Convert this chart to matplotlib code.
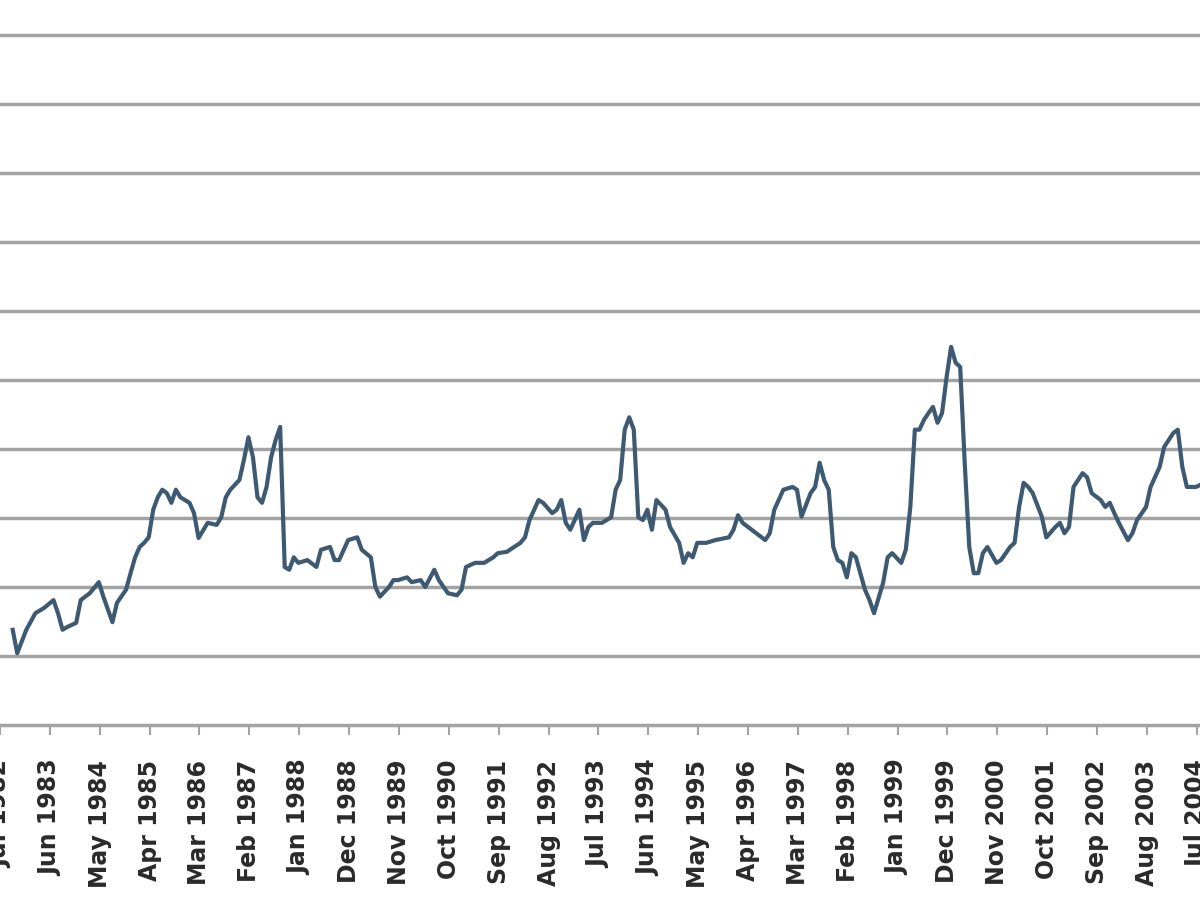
import numpy as np
import pandas as pd
import matplotlib
matplotlib.use("Agg")
import matplotlib.pyplot as plt

# series start month; offsets below are months after it
start_month = "1982-09"

month_offset = [
    0, 1, 3, 5, 7, 9, 10, 11, 12, 14, 15, 17, 19, 20, 22, 23, 25, 26, 27, 28,
    29, 30, 31, 32, 33, 34, 35, 36, 37, 39, 40, 41, 43, 45, 46, 47, 48, 50, 51, 52,
    53, 54, 55, 56, 57, 58, 59, 60, 61, 62, 63, 65, 67, 68, 70, 71, 72, 74, 76, 77,
    79, 80, 81, 83, 84, 85, 87, 88, 90, 91, 93, 94, 96, 98, 99, 100, 102, 104, 106, 107,
    109, 112, 113, 114, 116, 117, 119, 120, 121, 122, 123, 125, 126, 127, 128, 130, 131, 132, 133, 134,
    135, 136, 137, 138, 139, 140, 141, 142, 144, 145, 147, 148, 149, 150, 151, 153, 155, 158, 159, 160,
    161, 163, 164, 166, 167, 168, 170, 172, 173, 174, 176, 177, 178, 179, 180, 181, 182, 183, 184, 185,
    186, 188, 189, 190, 192, 193, 194, 196, 197, 198, 199, 200, 201, 202, 203, 204, 205, 206, 207, 208,
    209, 210, 211, 212, 213, 214, 215, 217, 218, 220, 221, 222, 223, 224, 225, 227, 228, 230, 231, 232,
    233, 234, 236, 237, 238, 240, 241, 242, 243, 244, 246, 247, 248, 250, 251, 253, 254, 256, 257, 258,
    259, 261, 262,
]

values = [
    1.38, 1.04, 1.38, 1.62, 1.70, 1.81, 1.62, 1.38, 1.42, 1.48, 1.81, 1.91, 2.07, 1.86, 1.49, 1.77, 1.96, 2.20, 2.43, 2.58,
    2.64, 2.72, 3.12, 3.30, 3.41, 3.36, 3.22, 3.41, 3.30, 3.22, 3.07, 2.71, 2.93, 2.90, 3.01, 3.30, 3.41, 3.55, 3.84, 4.17,
    3.88, 3.30, 3.22, 3.45, 3.88, 4.13, 4.32, 2.29, 2.25, 2.43, 2.35, 2.39, 2.29, 2.54, 2.58, 2.39, 2.39, 2.68, 2.72, 2.54,
    2.43, 2.00, 1.86, 2.00, 2.10, 2.10, 2.14, 2.07, 2.10, 2.00, 2.25, 2.10, 1.91, 1.88, 1.96, 2.29, 2.35, 2.35, 2.43, 2.49,
    2.51, 2.64, 2.72, 2.97, 3.26, 3.22, 3.07, 3.12, 3.26, 2.93, 2.83, 3.12, 2.68, 2.87, 2.93, 2.93, 2.97, 3.01, 3.41, 3.55,
    4.28, 4.46, 4.28, 3.01, 2.97, 3.12, 2.83, 3.26, 3.12, 2.87, 2.64, 2.35, 2.49, 2.43, 2.64, 2.64, 2.68, 2.72, 2.83, 3.04,
    2.93, 2.83, 2.78, 2.68, 2.78, 3.12, 3.41, 3.45, 3.41, 3.02, 3.36, 3.45, 3.80, 3.55, 3.41, 2.58, 2.39, 2.35, 2.14, 2.49,
    2.43, 1.96, 1.81, 1.62, 2.06, 2.43, 2.49, 2.35, 2.54, 3.16, 4.28, 4.28, 4.42, 4.52, 4.61, 4.38, 4.52, 5.04, 5.48, 5.25,
    5.19, 3.80, 2.58, 2.20, 2.20, 2.49, 2.58, 2.35, 2.39, 2.58, 2.64, 3.16, 3.51, 3.45, 3.36, 3.02, 2.72, 2.87, 2.93, 2.78,
    2.87, 3.45, 3.65, 3.59, 3.36, 3.26, 3.16, 3.22, 3.07, 2.93, 2.68, 2.78, 2.97, 3.16, 3.45, 3.74, 4.03, 4.23, 4.28, 3.74,
    3.45, 3.45, 3.48,
]

tick_labels = [
    "Jul 1982", "Jun 1983", "May 1984", "Apr 1985", "Mar 1986", "Feb 1987",
    "Jan 1988", "Dec 1988", "Nov 1989", "Oct 1990", "Sep 1991", "Aug 1992",
    "Jul 1993", "Jun 1994", "May 1995", "Apr 1996", "Mar 1997", "Feb 1998",
    "Jan 1999", "Dec 1999", "Nov 2000", "Oct 2001", "Sep 2002", "Aug 2003",
    "Jul 2004",
]

grid_levels = [1, 2, 3, 4, 5, 6, 7, 8, 9, 10]

base = pd.Period(start_month, freq="M")
x = np.array([(base + m).ordinal for m in month_offset])
# Excel-style category axis: ticks sit between months
tick_pos = [pd.Period(pd.to_datetime(t, format="%b %Y"), freq="M").ordinal - 0.8 for t in tick_labels]

fig = plt.figure(figsize=(12, 9), dpi=100)
ax = fig.add_axes([0, 175 / 900, 1, 725 / 900])

for g in grid_levels:
    ax.axhline(g, color="#a3a3a3", lw=2.5, zorder=1)

ax.plot(x, values, color="#3e5a72", lw=3.0, zorder=3, solid_joinstyle="round")

ax.set_xlim(base.ordinal - 0.44, base.ordinal + 261.9)
ax.set_ylim(0, 725 / 69)

ax.set_xticks(tick_pos)
ax.set_xticklabels(tick_labels, rotation=90, fontsize=17, fontweight="bold", color="#2a2a2a")
ax.tick_params(axis="x", length=7, width=1.5, color="#a3a3a3", pad=18)
ax.set_yticks([])

for s in ["left", "right", "top"]:
    ax.spines[s].set_visible(False)
ax.spines["bottom"].set_color("#a3a3a3")
ax.spines["bottom"].set_linewidth(2.5)

fig.savefig("out.png", dpi=100)
